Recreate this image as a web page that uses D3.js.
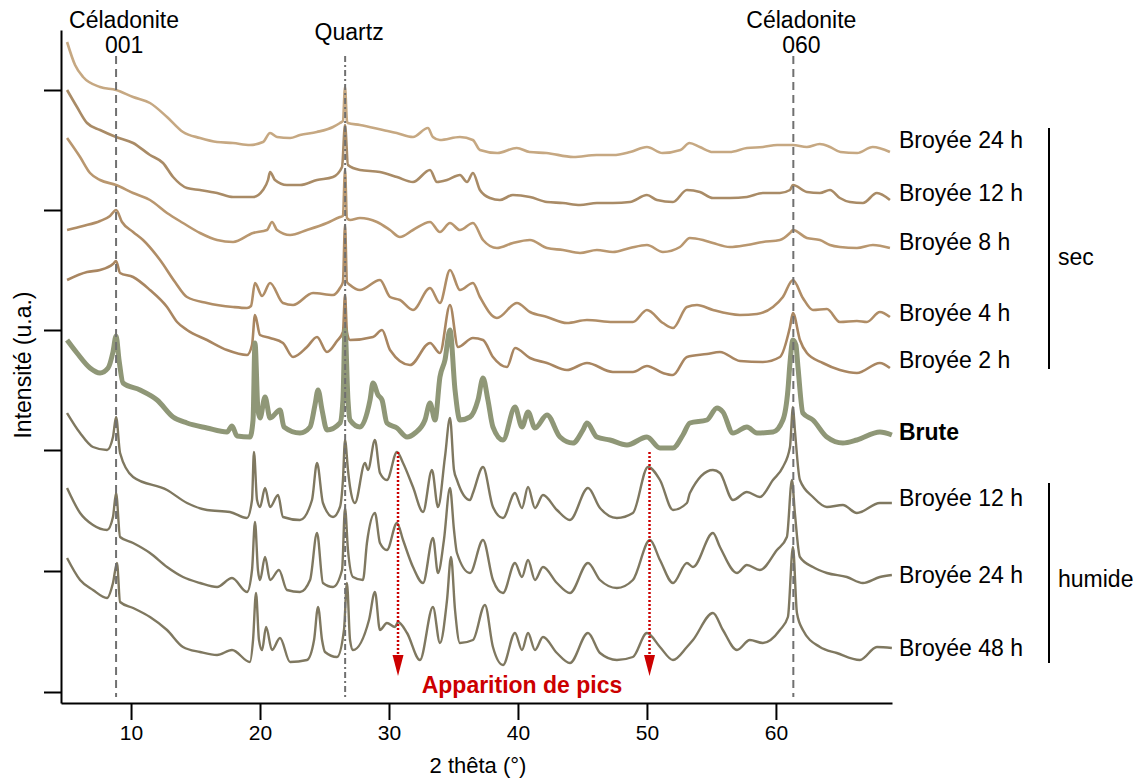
<!DOCTYPE html>
<html>
<head>
<meta charset="utf-8">
<script src="https://cdn.jsdelivr.net/npm/d3@7"></script>
<style>
  body { margin: 0; background: #fff; }
  text { font-family: "Liberation Sans", Arial, Helvetica, sans-serif; }
</style>
</head>
<body>
<svg id="chart" width="1146" height="780"></svg>
<script>
// Diffractogrammes empilés : [2 thêta (°), intensité décalée (u.a.)]
const sec24 = [[5.04,650],[5.66,627],[6.28,615],[7.6,605],[8.84,602],[10.16,595],[11.47,589],[12.79,575],[14.03,560],[15.35,554],[16.67,550],[17.91,549],[19.22,547],[20.23,550],[20.78,559],[21.32,555],[22.33,554],[23.1,557],[24.4,560],[25.66,565],[26.2,569],[26.43,571],[26.59,605],[26.74,571],[26.8,569],[27.75,567],[29.53,562],[30.6,559],[31.86,555],[33.02,564],[33.4,555],[33.95,552],[35.5,555],[36.5,552],[37.05,542],[38.4,539],[39.9,544],[40.9,540],[42.2,539],[44.3,535],[46.1,537],[47.4,537],[48.7,540],[50.0,545],[51.2,539],[52.6,542],[53.3,549],[54.1,545],[55.1,540],[56.4,540],[57.75,544],[59.0,545],[60.1,547],[61.3,547],[62.4,545],[63.4,548],[64.2,545],[65.0,540],[66.3,539],[67.5,545],[68.84,540]];

const sec12 = [[5.04,602],[5.81,585],[6.59,569],[7.6,562],[8.84,555],[10.16,549],[11.47,537],[12.48,529],[13.26,515],[14.34,504],[15.35,502],[16.67,499],[17.91,495],[19.46,495],[20.23,502],[20.62,512],[20.78,520],[21.16,512],[22.09,507],[23.1,507],[24.42,512],[25.66,515],[26.36,525],[26.59,567],[26.82,527],[27.75,522],[29.3,520],[30.62,515],[31.86,510],[33.18,522],[33.72,510],[34.5,512],[35.5,517],[36.05,510],[36.51,519],[37.05,502],[37.83,494],[38.6,492],[39.61,497],[40.93,495],[42.25,490],[43.49,489],[44.81,487],[46.12,489],[47.36,489],[48.68,490],[50.0,497],[50.78,492],[52.02,490],[53.1,502],[54.11,500],[55.12,494],[56.43,494],[57.75,495],[58.99,499],[60.31,499],[61.09,502],[61.32,507],[62.4,500],[63.41,499],[64.19,502],[64.96,494],[65.74,490],[66.75,489],[67.83,499],[68.84,492]];

const sec8 = [[5.04,554],[6.05,535],[6.82,519],[7.6,512],[8.84,507],[10.16,499],[11.47,492],[12.79,479],[14.03,469],[15.35,459],[16.67,452],[17.91,450],[19.46,459],[20.54,462],[20.93,470],[21.32,462],[22.33,457],[23.64,462],[25.19,469],[26.2,475],[26.43,476],[26.59,522],[26.74,474],[26.98,472],[27.75,474],[29.07,470],[30.08,462],[30.85,455],[31.86,462],[33.18,470],[33.95,460],[34.73,469],[35.5,462],[36.51,469],[37.29,452],[38.37,444],[39.61,449],[40.93,452],[42.25,444],[43.49,442],[44.81,439],[46.12,442],[47.36,440],[48.68,444],[50.0,447],[51.24,440],[52.56,445],[53.33,454],[54.34,452],[55.12,449],[56.43,445],[57.75,447],[58.99,450],[60.31,452],[61.09,459],[61.32,462],[62.4,454],[63.41,452],[64.19,447],[64.96,445],[66.28,444],[67.52,447],[68.84,444]];

const sec4 = [[5.04,462],[6.28,466],[7.6,471],[8.37,476],[8.84,482],[9.3,470],[10.16,460],[10.93,452],[12.25,432],[13.41,410],[14.34,395],[15.89,389],[17.91,385],[18.99,384],[19.3,386],[19.61,409],[20.16,396],[20.78,409],[21.78,389],[22.56,387],[24.11,399],[25.66,397],[26.2,404],[26.43,410],[26.59,467],[26.74,410],[26.98,407],[27.75,402],[29.3,412],[30.08,395],[30.85,392],[31.86,382],[33.18,404],[33.95,389],[34.73,422],[35.5,402],[36.51,409],[37.05,395],[38.37,374],[39.92,389],[40.93,380],[42.25,375],[43.8,369],[45.35,372],[47.36,370],[48.91,370],[50.0,382],[51.24,369],[52.02,364],[53.1,385],[53.88,387],[55.12,382],[57.21,377],[58.53,378],[59.77,385],[60.54,395],[61.32,412],[62.09,394],[62.87,382],[63.95,383],[64.96,370],[66.28,371],[67.05,370],[68.06,380],[68.84,375]];

const sec2 = [[5.04,412],[6.59,420],[7.6,422],[8.6,428],[8.84,431],[9.15,419],[10.16,415],[11.47,402],[12.79,385],[13.57,370],[14.34,362],[15.89,352],[17.44,342],[18.99,337],[19.38,347],[19.61,377],[20.0,357],[20.78,354],[21.78,349],[22.56,335],[23.64,345],[24.42,355],[25.19,340],[25.97,351],[26.43,360],[26.59,397],[26.74,360],[26.98,352],[28.76,355],[29.46,362],[30.08,342],[31.63,327],[33.18,349],[33.95,339],[34.73,387],[35.35,345],[36.51,354],[37.29,352],[38.06,335],[39.15,325],[39.77,344],[40.93,334],[42.25,329],[43.8,322],[45.35,329],[47.36,320],[48.91,320],[50.0,326],[51.24,319],[52.02,317],[53.1,335],[54.65,338],[55.66,340],[57.21,331],[58.99,330],[60.31,335],[61.09,365],[61.32,379],[61.86,352],[62.4,339],[63.64,329],[64.96,322],[66.28,319],[68.06,329],[68.84,324]];

const brute = [[5.04,352],[5.81,339],[6.82,324],[7.6,319],[8.22,324],[8.6,340],[8.84,356],[9.07,332],[9.38,309],[10.7,302],[12.02,292],[13.26,275],[14.34,269],[15.89,264],[17.44,260],[17.83,266],[18.22,256],[19.22,255],[19.46,272],[19.61,349],[19.84,282],[20.0,274],[20.39,295],[20.78,274],[21.55,282],[21.86,265],[23.1,259],[23.88,265],[24.26,287],[24.5,302],[24.81,282],[25.19,262],[26.2,269],[26.43,292],[26.59,362],[26.82,292],[26.98,272],[27.75,265],[28.53,292],[28.76,309],[29.15,297],[29.46,292],[29.84,269],[30.62,264],[31.4,255],[32.02,259],[32.79,272],[33.18,289],[33.57,272],[33.95,315],[34.34,332],[34.73,362],[35.12,302],[35.5,272],[36.28,275],[36.9,292],[37.29,314],[37.67,292],[38.06,265],[38.84,252],[39.77,285],[40.31,265],[40.78,280],[41.32,264],[42.25,277],[43.26,255],[44.26,249],[45.04,262],[45.35,269],[46.12,255],[47.13,252],[48.45,247],[50.0,255],[51.01,244],[52.02,244],[52.79,257],[53.33,269],[54.65,272],[55.43,284],[55.89,280],[56.67,259],[57.75,265],[58.53,259],[59.77,260],[60.54,272],[60.93,302],[61.09,329],[61.32,352],[61.55,347],[61.71,325],[62.09,279],[62.87,272],[63.95,255],[65.19,249],[66.28,252],[68.06,260],[68.99,257]];

const hum12 = [[5.04,279],[6.05,259],[7.05,245],[8.14,242],[8.6,255],[8.84,275],[9.15,239],[10.16,215],[12.79,202],[14.34,189],[15.89,182],[17.67,180],[18.99,174],[19.38,192],[19.53,240],[19.77,192],[20.0,185],[20.39,204],[20.78,185],[21.4,197],[21.78,175],[23.1,172],[24.03,192],[24.42,229],[24.88,189],[25.66,175],[26.2,185],[26.43,212],[26.59,252],[26.82,222],[26.98,205],[27.36,189],[28.14,229],[28.37,222],[28.91,252],[29.3,219],[29.84,212],[30.62,240],[31.09,229],[31.86,205],[32.64,180],[33.33,222],[33.8,185],[34.34,235],[34.73,274],[35.04,222],[35.27,212],[36.28,192],[36.51,199],[37.29,225],[38.06,185],[38.84,174],[39.77,199],[40.31,184],[40.78,205],[41.32,184],[41.94,197],[43.02,182],[44.03,172],[45.43,204],[46.36,184],[47.67,174],[48.91,179],[50.08,225],[51.01,212],[52.02,182],[53.1,189],[53.33,199],[55.12,222],[55.66,219],[56.67,192],[57.75,200],[58.76,195],[59.77,212],[60.54,225],[61.09,245],[61.32,285],[61.47,262],[61.86,212],[62.87,195],[63.95,185],[65.19,187],[66.28,179],[68.06,189],[68.99,189]];

const hum24 = [[5.04,204],[6.05,179],[7.05,167],[8.14,162],[8.6,175],[8.84,199],[9.15,155],[10.16,149],[11.47,139],[12.79,125],[14.03,115],[15.35,109],[16.67,105],[17.83,114],[18.99,100],[19.38,122],[19.61,170],[19.84,122],[20.0,112],[20.39,135],[20.78,112],[21.47,122],[22.09,102],[23.1,100],[23.88,112],[24.42,159],[24.88,109],[25.66,105],[26.36,122],[26.59,184],[26.82,142],[27.21,115],[27.98,112],[28.29,149],[28.91,179],[29.3,149],[29.84,142],[30.62,169],[31.09,152],[31.86,125],[32.64,109],[33.41,154],[33.8,119],[34.26,152],[34.73,204],[35.04,162],[35.27,139],[36.28,119],[37.29,152],[38.06,112],[38.84,99],[39.77,129],[40.31,115],[40.78,132],[41.32,112],[41.94,125],[43.02,109],[44.03,99],[45.43,129],[46.36,112],[47.67,104],[48.91,112],[50.23,152],[51.01,132],[52.02,109],[53.1,129],[53.57,125],[55.12,159],[55.66,145],[56.98,119],[57.75,127],[58.76,122],[60.08,142],[60.85,155],[61.24,212],[61.47,179],[61.86,135],[62.87,125],[63.95,119],[65.5,115],[66.74,109],[68.06,115],[68.99,117]];

const hum48 = [[5.04,134],[6.05,112],[7.05,102],[8.14,94],[8.6,109],[8.91,129],[9.15,90],[10.16,84],[11.47,75],[12.79,62],[14.03,45],[15.35,40],[16.67,37],[17.83,42],[19.22,30],[19.46,52],[19.69,99],[19.92,52],[20.16,42],[20.47,65],[20.93,42],[21.55,54],[22.33,30],[23.64,32],[24.19,52],[24.5,85],[24.81,52],[25.04,40],[25.97,35],[26.51,62],[26.74,109],[26.98,52],[27.21,42],[28.45,72],[28.91,100],[29.3,62],[29.84,69],[30.47,65],[30.7,70],[31.4,59],[32.4,32],[33.41,85],[33.95,49],[34.5,92],[34.81,135],[35.12,82],[35.5,49],[36.51,52],[37.44,87],[38.06,45],[38.84,27],[39.77,59],[40.31,42],[40.78,59],[41.32,42],[41.94,55],[43.02,39],[44.03,29],[45.43,59],[46.36,39],[47.67,32],[48.91,35],[50.0,59],[51.01,45],[52.02,32],[53.1,45],[53.57,52],[55.12,79],[55.89,62],[56.98,42],[57.98,52],[58.99,49],[60.31,62],[60.93,75],[61.32,145],[61.63,79],[62.09,62],[63.41,45],[64.72,39],[66.51,32],[67.83,45],[68.99,44]];

const xTicks = [10, 20, 30, 40, 50, 60];
const yTicks = [0, 121, 242, 362, 482, 602];
const refLines = [
  { name: ["Céladonite", "001"], theta: 8.84, dash: "8,5" },
  { name: ["Quartz"], theta: 26.6, dash: "6,3,2,3" },
  { name: ["Céladonite", "060"], theta: 61.35, dash: "8,5" }
];
const newPeaks = [30.7, 50.2];

// styles and label placement for each trace
const series = [
  { label: "Broyée 24 h", data: sec24, color: "#c6a882", width: 2.6, labelY: 544 },
  { label: "Broyée 12 h", data: sec12, color: "#a98b66", width: 2.6, labelY: 491 },
  { label: "Broyée 8 h",  data: sec8,  color: "#b9976f", width: 2.6, labelY: 442 },
  { label: "Broyée 4 h",  data: sec4,  color: "#b08d66", width: 2.6, labelY: 371 },
  { label: "Broyée 2 h",  data: sec2,  color: "#a98661", width: 2.6, labelY: 324 },
  { label: "Brute",       data: brute, color: "#8f9777", width: 5,   labelY: 252, bold: true },
  { label: "Broyée 12 h", data: hum12, color: "#7f7860", width: 2.4, labelY: 186 },
  { label: "Broyée 24 h", data: hum24, color: "#7f7860", width: 2.4, labelY: 109 },
  { label: "Broyée 48 h", data: hum48, color: "#7f7860", width: 2.4, labelY: 36 }
];
const groups = [
  { name: "sec", top: 564, bottom: 323, textY: 427 },
  { name: "humide", top: 209, bottom: 29, textY: 105 }
];

const svg = d3.select("#chart");
const x = d3.scaleLinear().domain([4.57, 69.0]).range([61, 892]);
const y = d3.scaleLinear().domain([-11, 662]).range([703, 30]);

// axes
const xAxis = svg.append("g")
  .attr("transform", "translate(0,703)")
  .call(d3.axisBottom(x).tickValues(xTicks).tickSize(17).tickSizeOuter(0).tickPadding(5));
xAxis.selectAll("text").attr("font-size", 21).attr("fill", "#000")
  .style("font-family", '"Liberation Sans", Arial, sans-serif');

const yAxis = svg.append("g")
  .attr("transform", "translate(61,0)")
  .call(d3.axisLeft(y).tickValues(yTicks).tickSize(17).tickSizeOuter(0).tickFormat(""));

[xAxis, yAxis].forEach(a => {
  a.select(".domain").attr("stroke", "#000").attr("stroke-width", 2);
  a.selectAll(".tick line").attr("stroke", "#000").attr("stroke-width", 2);
});

svg.append("text")
  .attr("x", 478).attr("y", 773)
  .attr("text-anchor", "middle").attr("font-size", 22)
  .text("2 thêta (°)");

svg.append("text")
  .attr("transform", "translate(31,365) rotate(-90)")
  .attr("text-anchor", "middle").attr("font-size", 23)
  .text("Intensité (u.a.)");

// traces
const line = d3.line().x(d => x(d[0])).y(d => y(d[1])).curve(d3.curveMonotoneX);
svg.append("g").selectAll("path")
  .data(series)
  .join("path")
  .attr("d", d => line(d.data))
  .attr("fill", "none")
  .attr("stroke", d => d.color)
  .attr("stroke-width", d => d.width)
  .attr("stroke-linejoin", "round");

// reference lines
const refs = svg.append("g");
refs.selectAll("line")
  .data(refLines)
  .join("line")
  .attr("x1", d => x(d.theta)).attr("x2", d => x(d.theta))
  .attr("y1", 56).attr("y2", 697)
  .attr("stroke", "#707070")
  .attr("stroke-width", 2)
  .attr("stroke-dasharray", d => d.dash);

refs.selectAll("text")
  .data(refLines)
  .join("text")
  .attr("x", d => x(d.theta) + (d.name.length > 1 ? 8 : 4))
  .attr("y", d => d.name.length > 1 ? 28 : 40)
  .attr("text-anchor", "middle")
  .attr("font-size", 23)
  .selectAll("tspan")
  .data(d => d.name)
  .join("tspan")
  .attr("x", function () { return d3.select(this.parentNode).attr("x"); })
  .attr("dy", (d, i) => i ? 25 : 0)
  .text(d => d);

// red arrows: new peaks
const red = "#cc0000";
const arrows = svg.append("g");
arrows.selectAll("line")
  .data(newPeaks)
  .join("line")
  .attr("x1", d => x(d)).attr("x2", d => x(d))
  .attr("y1", 452).attr("y2", 658)
  .attr("stroke", red).attr("stroke-width", 2.5)
  .attr("stroke-dasharray", "2,2");
arrows.selectAll("path")
  .data(newPeaks)
  .join("path")
  .attr("d", d => `M${x(d) - 5.5},655 L${x(d) + 5.5},655 L${x(d)},676 Z`)
  .attr("fill", red);
svg.append("text")
  .attr("x", 522).attr("y", 693)
  .attr("text-anchor", "middle")
  .attr("font-size", 23).attr("font-weight", "bold")
  .attr("fill", red)
  .text("Apparition de pics");

// series labels
svg.append("g").selectAll("text")
  .data(series)
  .join("text")
  .attr("x", 899)
  .attr("y", d => y(d.labelY))
  .attr("font-size", 23)
  .attr("font-weight", d => d.bold ? "bold" : "normal")
  .text(d => d.label);

// group brackets
const grp = svg.append("g").selectAll("g").data(groups).join("g");
grp.append("line")
  .attr("x1", 1049).attr("x2", 1049)
  .attr("y1", d => y(d.top)).attr("y2", d => y(d.bottom))
  .attr("stroke", "#000").attr("stroke-width", 2);
grp.append("text")
  .attr("x", 1058).attr("y", d => y(d.textY))
  .attr("font-size", 23)
  .text(d => d.name);
</script>
</body>
</html>
